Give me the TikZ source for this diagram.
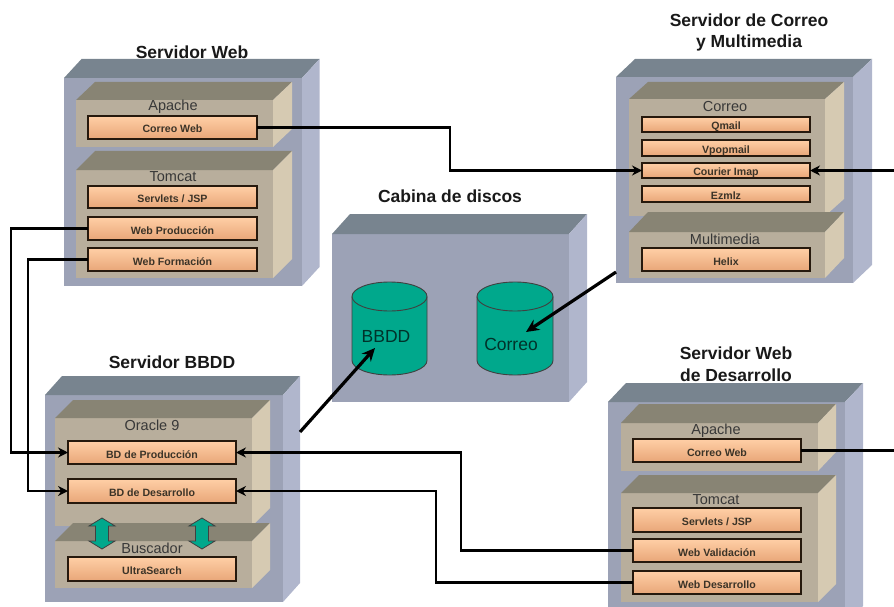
\documentclass[tikz,border=0pt]{standalone}
\usepackage{fontspec}
\setmainfont{Liberation Sans}
\usetikzlibrary{arrows.meta}
\definecolor{outF}{HTML}{9CA2B6}
\definecolor{outT}{HTML}{78848F}
\definecolor{outR}{HTML}{B0B6CC}
\definecolor{inF}{HTML}{B8AE9C}
\definecolor{inT}{HTML}{888474}
\definecolor{inR}{HTML}{D6CAB2}
\definecolor{leafT}{HTML}{FFCFA6}
\definecolor{leafB}{HTML}{E8A678}
\definecolor{teal1}{HTML}{00A88C}
\definecolor{txtD}{HTML}{3C3428}
\tikzset{
  leaf/.style={draw=black!80!brown,line width=1.3pt,top color=leafT,bottom color=leafB,inner sep=0pt,outer sep=0pt,
     font=\fontsize{10.6}{12}\selectfont\bfseries,text=txtD},
  title/.style={font=\fontsize{17.5}{21.5}\selectfont\bfseries,align=center,text=black!90,inner sep=0pt},
  layer/.style={font=\fontsize{14.5}{16}\selectfont,text=black!78,inner sep=0pt,yshift=-1pt},
  disklabel/.style={font=\fontsize{17.5}{20}\selectfont,text=black!70!teal1,inner sep=0pt},
  wire/.style={line width=2.2pt,line cap=butt,line join=miter},
  wirearrow/.style={wire,-{Stealth[length=10pt,width=10pt]}},
  bigarrow/.style={line width=3.2pt,-{Stealth[length=13pt,width=12pt]}},
  dbl/.style={draw=black!75,line width=.8pt,fill=teal1}
}
% box3d: x0,y0,x1,y1 front face, dx,dy depth, colours front/top/right
\newcommand{\boxdd}[9]{%
  \fill[#7] (#1,#2) rectangle (#3,#4);
  \fill[#8] (#1,#2) -- (#1+#5,#2-#6) -- (#3+#5,#2-#6) -- (#3,#2) -- cycle;
  \fill[#9] (#3,#2) -- (#3+#5,#2-#6) -- (#3+#5,#4-#6) -- (#3,#4) -- cycle;
}
\newcommand{\outerbox}[6]{\boxdd{#1}{#2}{#3}{#4}{#5}{#6}{outF}{outT}{outR}}
\newcommand{\innerbox}[6]{\boxdd{#1}{#2}{#3}{#4}{#5}{#6}{inF}{inT}{inR}}
\newcommand{\leafnode}[6]{%
  \node[leaf,minimum width={(#4-#2)*1pt},minimum height={(#5-#3)*1pt}] (#1) at ({(#2+#4)/2},{(#3+#5)/2}) {\smash{\raisebox{-5.5pt}{#6}}};
}
\newcommand{\disk}[5]{% name x0 x1 ytop ybottom
  \draw[fill=teal1,draw=black!75,line width=.9pt] (#2,#4) -- (#2,#5) arc[start angle=180,end angle=360,x radius={(#3-#2)/2*1pt},y radius=14.5pt] -- (#3,#4);
  \draw[fill=teal1,draw=black!75,line width=.9pt] ({(#2+#3)/2},#4) ellipse[x radius={(#3-#2)/2*1pt},y radius=14.5pt];
}
\newcommand{\updown}[1]{% x center
  \draw[dbl] (#1,518) -- (#1+13,526) -- (#1+6.5,526) -- (#1+6.5,541) -- (#1+13,541) -- (#1,549) -- (#1-13,541) -- (#1-6.5,541) -- (#1-6.5,526) -- (#1-13,526) -- cycle;
}
\begin{document}
\begin{tikzpicture}[x=1pt,y=-1pt]
\useasboundingbox (0,0) rectangle (894,607);
\clip (0,0) rectangle (894,607);

% Servidor Web
\outerbox{64}{78}{302}{286}{17.5}{19}
\innerbox{76}{100}{273}{147}{19}{18}
\innerbox{76}{170}{273}{278}{19}{19}
\node[title] (t1) at (192,52) {Servidor Web};
\node[layer] (l1) at (173,106) {Apache};
\node[layer] (l2) at (173,176) {Tomcat};
\leafnode{wcorreo}{88}{116}{257}{139}{Correo Web}
\leafnode{wserv}{88}{186}{257}{208}{Servlets / JSP}
\leafnode{wprod}{88}{217}{257}{240}{Web Producción}
\leafnode{wform}{88}{248}{257}{271}{Web Formación}

% Servidor de Correo
\outerbox{616}{77}{853}{283}{19}{18}
\innerbox{629}{99}{825}{216}{19}{17}
\innerbox{629}{232}{825}{278}{19}{20}
\node[title] (t2) at (749,32.5) {Servidor de Correo\\y Multimedia};
\node[layer] (l3) at (725,106) {Correo};
\node[layer] (l4) at (725,238) {Multimedia};
\leafnode{qmail}{642}{117}{810}{132}{Qmail}
\leafnode{vpop}{642}{140}{810}{156}{Vpopmail}
\leafnode{courier}{642}{163}{810}{178}{Courier Imap}
\leafnode{ezmlz}{642}{186}{810}{202}{Ezmlz}
\leafnode{helix}{642}{248}{810}{271}{Helix}

% Cabina de discos
\outerbox{332}{234}{569}{402}{18}{20}
\node[title] (t3) at (450,196) {Cabina de discos};
\disk{d1}{352}{427}{296.5}{360.5}
\disk{d2}{477}{553}{296.5}{360.5}
\node[disklabel] (dl1) at (386,336) {BBDD};
\node[disklabel] (dl2) at (511,344) {Correo};

% Servidor BBDD
\outerbox{45}{395}{283}{602}{17}{19}
\innerbox{55}{418}{252}{526}{18}{18}
\innerbox{55}{541}{252}{588}{18}{18}
\node[title] (t4) at (172,362) {Servidor BBDD};
\node[layer] (l5) at (152,424) {Oracle 9};
\node[layer] (l6) at (152,547) {Buscador};
\leafnode{bprod}{68}{441}{236}{464}{BD de Producción}
\leafnode{bdes}{68}{479}{236}{503}{BD de Desarrollo}
\leafnode{ultra}{68}{557}{236}{581}{UltraSearch}
\updown{102}
\updown{202}

% Servidor Web de Desarrollo
\outerbox{608}{402}{845}{625}{18}{19}
\innerbox{621}{423}{818}{471}{18}{19}
\innerbox{621}{493}{818}{602}{18}{18}
\node[title] (t5) at (736,364) {Servidor Web\\de Desarrollo};
\node[layer] (l7) at (716,430) {Apache};
\node[layer] (l8) at (716,499) {Tomcat};
\leafnode{dcorreo}{633}{439}{801}{462}{Correo Web}
\leafnode{dserv}{633}{508}{801}{532}{Servlets / JSP}
\leafnode{dval}{633}{539}{801}{562}{Web Validación}
\leafnode{ddes}{633}{571}{801}{594}{Web Desarrollo}

% Connector helpers
\coordinate (busA) at (450,127);
\coordinate (busB) at (11,300);
\coordinate (busC) at (28,300);
\coordinate (busD) at (461,500);
\coordinate (busE) at (436,520);
\coordinate (edgeA) at (894,170.5);
\coordinate (edgeB) at (894,450.5);
\coordinate (sBBDD) at (300,432);
\coordinate (eBBDD) at (375,348);
\coordinate (sCorreo) at (616,272);
\coordinate (eCorreo) at (526,332);

% Connectors
\draw[wirearrow] (wcorreo.east) -- (wcorreo.east -| busA) -- (busA |- courier.west) -- (courier.west);
\draw[wirearrow] (edgeA) -- (courier.east);
\draw[wirearrow] (wprod.west) -- (wprod.west -| busB) -- (busB |- bprod.west) -- (bprod.west);
\draw[wirearrow] (wform.west) -- (wform.west -| busC) -- (busC |- bdes.west) -- (bdes.west);
\draw[wirearrow] (dval.west) -- (dval.west -| busD) -- (busD |- bprod.east) -- (bprod.east);
\draw[wirearrow] (ddes.west) -- (ddes.west -| busE) -- (busE |- bdes.east) -- (bdes.east);
\draw[wire] (dcorreo.east) -- (edgeB);
\draw[bigarrow] (sBBDD) -- (eBBDD);
\draw[bigarrow] (sCorreo) -- (eCorreo);
\end{tikzpicture}
\end{document}
